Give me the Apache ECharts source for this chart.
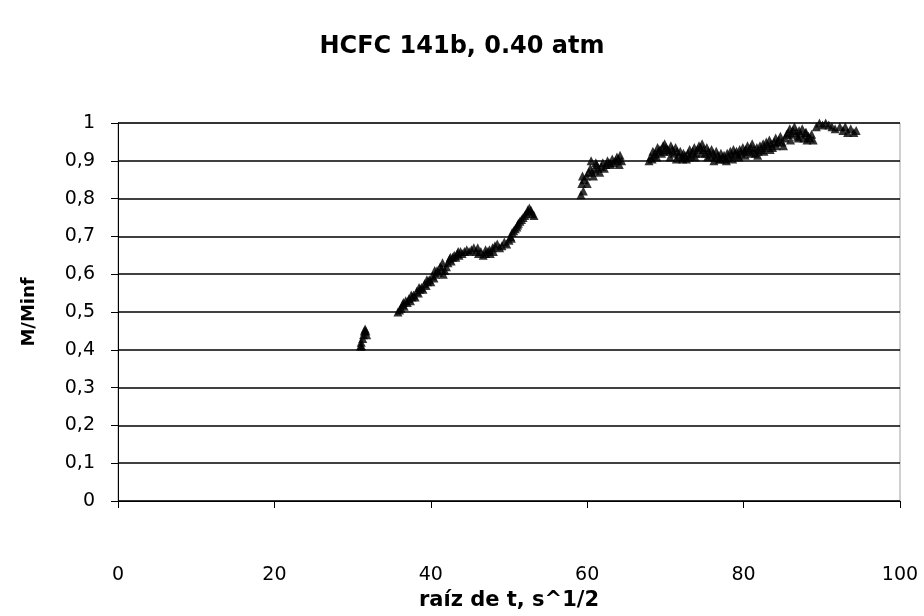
<!DOCTYPE html>
<html>
<head>
<meta charset="utf-8">
<script src="https://cdn.jsdelivr.net/npm/echarts@6/dist/echarts.min.js"></script>
<style>
html,body{margin:0;padding:0;background:#fff;}
#chart{width:924px;height:616px;}
</style>
</head>
<body>
<div id="chart"></div>
<script>
const titleText = "HCFC 141b, 0.40 atm";
const xAxisName = "raíz de t, s^1/2";
const yAxisName = "M/Minf";
const xTicks = [0, 20, 40, 60, 80, 100];
const yTicks = [0, 0.1, 0.2, 0.3, 0.4, 0.5, 0.6, 0.7, 0.8, 0.9, 1];

// sqrt(t) values and M/Minf values
const xs = [
31.0,31.1,31.15,31.3,31.4,31.5,31.6,31.7,31.8,
35.8,36.0,36.2,36.4,36.6,36.8,37.0,37.2,37.4,37.6,37.8,38.0,38.2,38.4,38.6,38.8,39.0,39.2,39.4,39.6,39.8,40.0,40.2,40.4,40.6,40.8,41.0,41.2,41.4,41.6,41.8,42.0,42.2,42.4,42.6,42.8,43.0,43.2,43.4,43.6,43.8,44.0,44.3,44.6,44.9,45.2,45.5,45.8,46.1,46.4,46.7,47.0,47.3,47.6,47.9,48.2,48.5,48.8,49.1,49.4,49.7,50.0,50.2,50.4,50.6,50.8,51.0,51.2,51.4,51.6,51.8,52.0,52.2,52.4,52.6,52.8,53.0,53.2,
36.5,37.5,38.5,39.5,40.5,41.5,42.5,43.5,46.0,47.0,47.5,48.0,50.3,51.1,52.5,
59.2,59.5,59.3,59.6,59.9,59.4,60.0,60.2,60.4,60.6,60.8,61.0,61.2,61.4,61.6,61.8,62.0,62.2,62.4,62.6,62.8,63.0,63.2,63.4,63.6,63.8,64.0,64.2,64.4,64.1,60.5,61.1,
67.9,68.1,68.3,68.5,68.7,68.9,69.1,69.3,69.5,69.7,69.9,70.1,70.3,70.5,70.7,70.9,71.1,71.3,71.5,71.7,71.9,72.1,72.3,72.5,72.7,72.9,73.1,73.3,73.5,73.7,73.9,74.1,74.3,74.5,74.7,74.9,75.1,75.3,75.5,75.7,75.9,76.1,76.3,76.5,76.7,76.9,77.1,77.3,77.5,77.7,77.9,78.1,78.3,78.5,78.7,78.9,79.1,79.3,79.5,79.7,79.9,80.1,80.3,80.5,80.7,80.9,81.1,81.3,81.5,81.7,81.9,82.1,82.3,82.5,82.7,82.9,83.1,83.3,83.5,83.7,83.9,84.1,84.3,84.5,84.7,84.9,85.1,85.3,85.5,85.7,85.9,86.1,86.3,86.5,86.7,86.9,87.1,87.3,87.5,87.7,87.9,88.1,88.3,88.5,88.7,88.9,89.3,89.7,90.1,90.5,90.9,91.3,91.7,92.3,92.7,93.0,93.3,93.7,94.1,94.4,
68.4,69.0,69.8,70.6,71.4,72.2,73.0,73.8,74.6,75.4,76.2,77.0,77.8,78.6,79.4,80.2,81.0,81.8,82.6,83.4,84.2,86.0,87.0,88.0
];
const ys = [
0.41,0.42,0.41,0.43,0.44,0.45,0.455,0.45,0.44,
0.50,0.505,0.51,0.52,0.515,0.53,0.525,0.535,0.53,0.54,0.545,0.54,0.555,0.55,0.56,0.565,0.56,0.575,0.57,0.58,0.585,0.58,0.595,0.59,0.60,0.61,0.605,0.62,0.615,0.60,0.61,0.62,0.63,0.64,0.635,0.645,0.65,0.645,0.655,0.65,0.66,0.655,0.66,0.665,0.66,0.665,0.67,0.66,0.655,0.66,0.65,0.665,0.66,0.655,0.67,0.675,0.68,0.67,0.675,0.685,0.68,0.69,0.70,0.71,0.715,0.72,0.725,0.735,0.74,0.745,0.75,0.755,0.76,0.77,0.775,0.77,0.76,0.755,
0.525,0.545,0.565,0.585,0.61,0.63,0.645,0.66,0.67,0.655,0.665,0.66,0.695,0.73,0.765,
0.81,0.82,0.84,0.85,0.86,0.86,0.84,0.87,0.88,0.87,0.86,0.875,0.89,0.88,0.87,0.885,0.895,0.88,0.89,0.90,0.895,0.89,0.905,0.895,0.90,0.91,0.905,0.915,0.90,0.89,0.90,0.895,
0.90,0.91,0.905,0.915,0.92,0.91,0.925,0.93,0.92,0.94,0.945,0.935,0.93,0.925,0.94,0.93,0.92,0.935,0.925,0.915,0.925,0.91,0.92,0.915,0.905,0.92,0.93,0.915,0.925,0.935,0.92,0.93,0.94,0.935,0.945,0.93,0.92,0.935,0.925,0.915,0.93,0.92,0.91,0.925,0.915,0.905,0.92,0.91,0.915,0.905,0.92,0.91,0.925,0.915,0.93,0.92,0.925,0.915,0.93,0.92,0.935,0.925,0.93,0.94,0.925,0.935,0.945,0.93,0.92,0.935,0.925,0.94,0.93,0.945,0.935,0.95,0.94,0.955,0.945,0.935,0.95,0.96,0.95,0.955,0.965,0.95,0.94,0.96,0.97,0.975,0.985,0.97,0.98,0.99,0.975,0.965,0.98,0.97,0.985,0.96,0.975,0.955,0.965,0.96,0.97,0.955,0.99,1.0,0.995,1.0,0.995,0.99,0.985,0.99,0.98,0.99,0.975,0.985,0.975,0.98,
0.925,0.935,0.925,0.91,0.905,0.905,0.91,0.91,0.92,0.91,0.90,0.905,0.90,0.905,0.91,0.915,0.92,0.915,0.925,0.93,0.94,0.955,0.96,0.975
];

const points = xs.map((x, i) => [x, ys[i]]);
const fmt = v => String(v).replace('.', ',');

const chart = echarts.init(document.getElementById('chart'), null, {renderer: 'canvas'});
chart.setOption({
  animation: false,
  backgroundColor: '#ffffff',
  title: {
    text: titleText,
    left: 'center',
    top: 30,
    textStyle: {fontFamily: 'DejaVu Sans', fontWeight: 'bold', fontSize: 24, color: '#000'}
  },
  grid: {left: 118, right: 24, top: 123, bottom: 111, show: true, borderColor: '#a0a0a0', borderWidth: 1},
  xAxis: {
    type: 'value', min: 0, max: 100, interval: 20,
    name: xAxisName, nameLocation: 'middle', nameGap: 89,
    nameTextStyle: {fontFamily: 'DejaVu Sans', fontWeight: 'bold', fontSize: 21, color: '#000'},
    axisLine: {show: true, lineStyle: {color: '#000', width: 1}},
    axisTick: {show: true, length: 7, lineStyle: {color: '#000'}},
    axisLabel: {margin: 65, fontFamily: 'DejaVu Sans', fontSize: 19, color: '#000', formatter: v => fmt(v)},
    splitLine: {show: false}
  },
  yAxis: {
    type: 'value', min: 0, max: 1, interval: 0.1,
    name: yAxisName, nameLocation: 'middle', nameGap: 80, nameRotate: 90,
    nameTextStyle: {fontFamily: 'DejaVu Sans', fontWeight: 'bold', fontSize: 18, color: '#000'},
    axisLine: {show: true, lineStyle: {color: '#000', width: 1}},
    axisTick: {show: true, length: 7, lineStyle: {color: '#000'}},
    axisLabel: {margin: 23, fontFamily: 'DejaVu Sans', fontSize: 19, color: '#000',
      formatter: v => fmt(Math.round(v * 10) / 10)},
    splitLine: {show: true, lineStyle: {color: '#000', width: 1.5}}
  },
  series: [{
    type: 'scatter',
    data: points,
    symbol: 'triangle',
    symbolSize: 9,
    clip: false,
    itemStyle: {color: '#000'}
  }]
});
</script>
</body>
</html>
